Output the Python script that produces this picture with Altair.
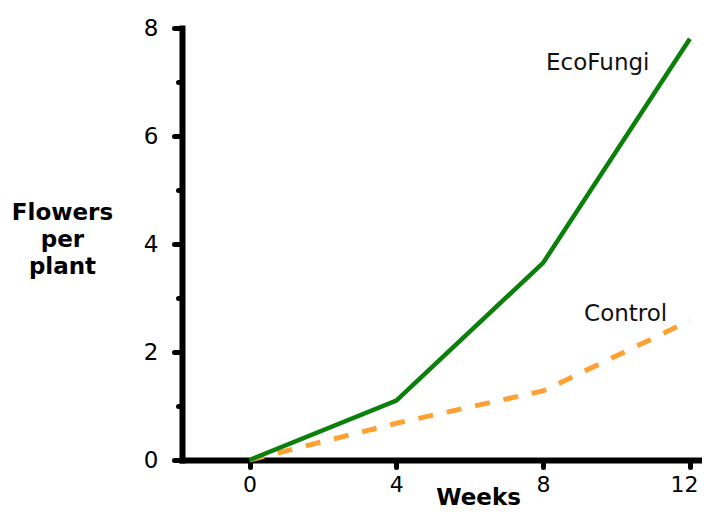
import altair as alt
import pandas as pd

weeks = [0, 4, 8, 12]
ecofungi = [0, 1.1, 3.65, 7.8]
control = [0, 0.68, 1.28, 2.58]

label_text = ["EcoFungi", "Control"]
label_x = [9.49, 10.25]
label_y = [7.35, 2.7]

x_ticks = [0, 4, 8, 12]
y_ticks = [0, 1, 2, 3, 4, 5, 6, 7, 8]

eco_df = pd.DataFrame({"week": weeks, "flowers": ecofungi})
ctl_df = pd.DataFrame({"week": weeks, "flowers": control})
lab_df = pd.DataFrame({"label": label_text, "week": label_x, "flowers": label_y})

FONT = "DejaVu Sans"

x_enc = alt.X(
    "week:Q",
    scale=alt.Scale(domain=[-1.84, 12.33], nice=False, zero=False),
    axis=alt.Axis(
        values=x_ticks,
        title="Weeks",
        titleFont=FONT,
        titleFontSize=23,
        titleFontWeight="bold",
        titleColor="black",
        titleX=296,
        titleY=44,
        titleAlign="center",
        titleBaseline="alphabetic",
        labelFont=FONT,
        labelFontSize=22,
        labelColor="black",
        labelPadding=7,
        labelOffset={"condition": {"test": "datum.value === 12", "value": -6}, "value": 0},
        domainColor="black",
        domainWidth=6,
        domainCap="square",
        tickColor="black",
        tickWidth=5,
        tickSize=7,
        tickCap="round",
        grid=False,
    ),
)

y_enc = alt.Y(
    "flowers:Q",
    scale=alt.Scale(domain=[0, 8], nice=False),
    axis=alt.Axis(
        values=y_ticks,
        labelExpr="datum.value % 2 === 0 ? datum.label : ''",
        title=["Flowers", "per", "plant"],
        titleFont=FONT,
        titleFontSize=23,
        titleFontWeight="bold",
        titleColor="black",
        titleAngle=0,
        titleAlign="center",
        titleBaseline="alphabetic",
        titleLineHeight=27,
        titleX=-120,
        titleY=191,
        labelFont=FONT,
        labelFontSize=23,
        labelColor="black",
        labelPadding=16,
        domainColor="black",
        domainWidth=6,
        domainCap="square",
        tickColor="black",
        tickWidth=5,
        tickSize={"condition": {"test": "datum.value % 2 === 1", "value": 4}, "value": 8},
        tickCap="round",
        grid=False,
    ),
)

ctl_line = alt.Chart(ctl_df).mark_line(
    color="#ffa033", strokeWidth=5, strokeDash=[15, 14], strokeCap="butt"
).encode(x=x_enc, y=y_enc)

eco_line = alt.Chart(eco_df).mark_line(
    color="#0a800a", strokeWidth=4.5
).encode(x="week:Q", y="flowers:Q")

labels = alt.Chart(lab_df).mark_text(
    font=FONT, fontSize=23, color="#111111", align="center", baseline="middle"
).encode(x="week:Q", y="flowers:Q", text="label:N")

chart = (
    alt.layer(ctl_line, eco_line, labels)
    .properties(
        width=520,
        height=432,
        padding={"left": 174, "top": 20, "right": 0, "bottom": 49},
        autosize=alt.AutoSizeParams(type="none"),
        background="white",
    )
    .configure_view(stroke=None)
)

chart.save("out.html", embed_options={"renderer": "svg", "actions": False})
